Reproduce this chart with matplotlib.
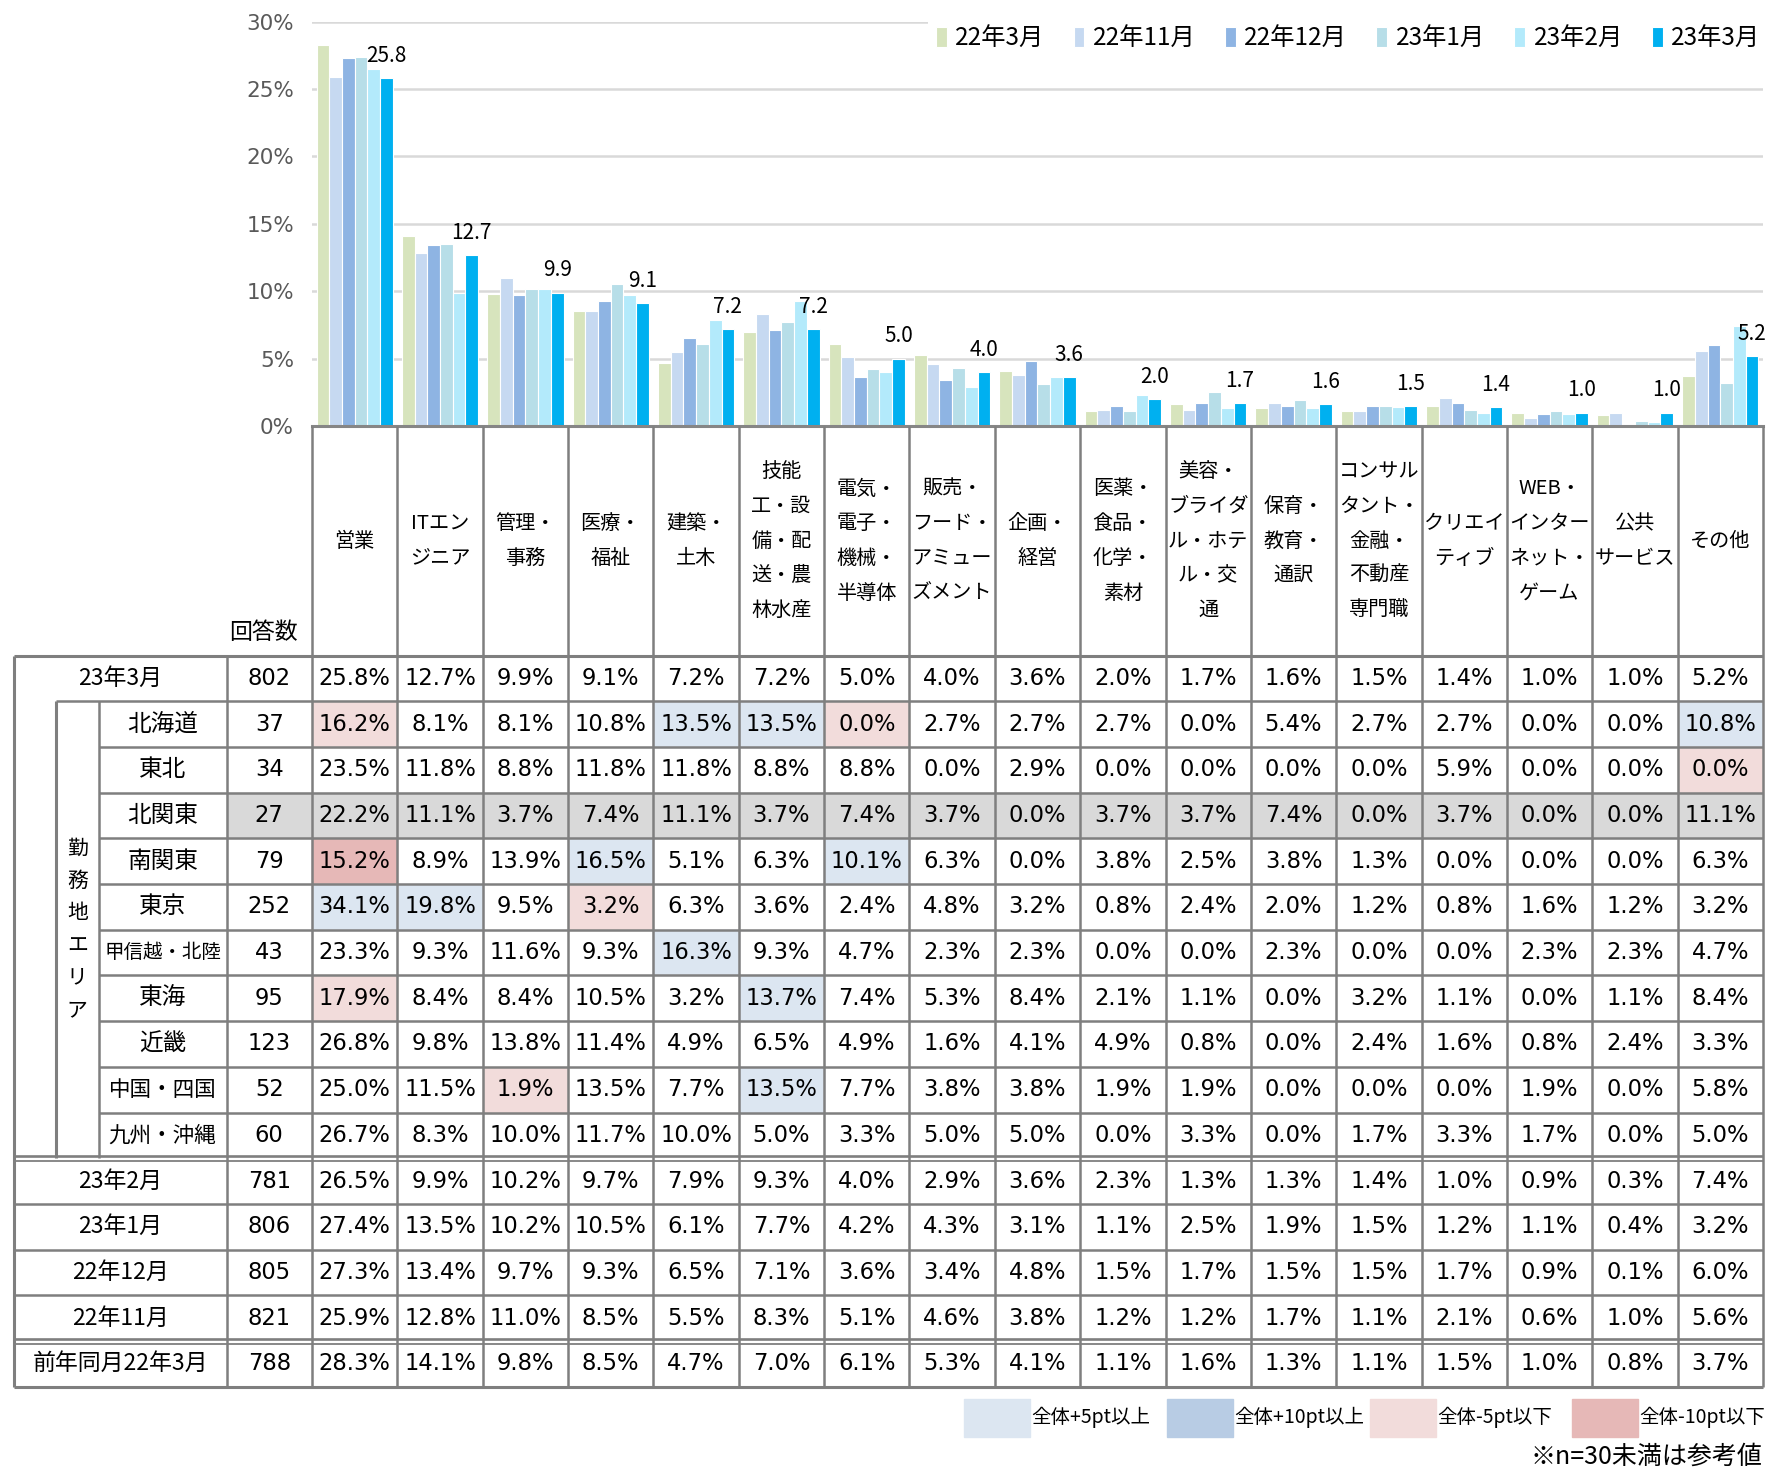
import matplotlib.pyplot as plt
from matplotlib.patches import Rectangle

jp = 'Noto Sans CJK JP'
num_font = 'DejaVu Sans'
plt.rcParams['font.family'] = [jp, 'DejaVu Sans']

# 職種 (column order of the chart and the table)
jobs = ['営業', 'ITエンジニア', '管理・事務', '医療・福祉', '建築・土木',
        '技能工・設備・配送・農林水産', '電気・電子・機械・半導体',
        '販売・フード・アミューズメント', '企画・経営', '医薬・食品・化学・素材',
        '美容・ブライダル・ホテル・交通', '保育・教育・通訳',
        'コンサルタント・金融・不動産専門職', 'クリエイティブ',
        'WEB・インターネット・ゲーム', '公共サービス', 'その他']
header_lines = [['営業'], ['ITエン', 'ジニア'], ['管理・', '事務'], ['医療・', '福祉'],
                ['建築・', '土木'], ['技能', '工・設', '備・配', '送・農', '林水産'],
                ['電気・', '電子・', '機械・', '半導体'], ['販売・', 'フード・', 'アミュー', 'ズメント'],
                ['企画・', '経営'], ['医薬・', '食品・', '化学・', '素材'],
                ['美容・', 'ブライダ', 'ル・ホテ', 'ル・交', '通'], ['保育・', '教育・', '通訳'],
                ['コンサル', 'タント・', '金融・', '不動産', '専門職'], ['クリエイ', 'ティブ'],
                ['WEB・', 'インター', 'ネット・', 'ゲーム'], ['公共', 'サービス'], ['その他']]

# 全体 (latest month)
total_label = '23年3月'
total_n = 802
total = [25.8, 12.7, 9.9, 9.1, 7.2, 7.2, 5.0, 4.0, 3.6, 2.0, 1.7, 1.6, 1.5, 1.4, 1.0, 1.0, 5.2]

# 勤務地エリア別
areas = ['北海道', '東北', '北関東', '南関東', '東京', '甲信越・北陸', '東海', '近畿',
         '中国・四国', '九州・沖縄']
area_n = [37, 34, 27, 79, 252, 43, 95, 123, 52, 60]
area_vals = [
    [16.2, 8.1, 8.1, 10.8, 13.5, 13.5, 0.0, 2.7, 2.7, 2.7, 0.0, 5.4, 2.7, 2.7, 0.0, 0.0, 10.8],
    [23.5, 11.8, 8.8, 11.8, 11.8, 8.8, 8.8, 0.0, 2.9, 0.0, 0.0, 0.0, 0.0, 5.9, 0.0, 0.0, 0.0],
    [22.2, 11.1, 3.7, 7.4, 11.1, 3.7, 7.4, 3.7, 0.0, 3.7, 3.7, 7.4, 0.0, 3.7, 0.0, 0.0, 11.1],
    [15.2, 8.9, 13.9, 16.5, 5.1, 6.3, 10.1, 6.3, 0.0, 3.8, 2.5, 3.8, 1.3, 0.0, 0.0, 0.0, 6.3],
    [34.1, 19.8, 9.5, 3.2, 6.3, 3.6, 2.4, 4.8, 3.2, 0.8, 2.4, 2.0, 1.2, 0.8, 1.6, 1.2, 3.2],
    [23.3, 9.3, 11.6, 9.3, 16.3, 9.3, 4.7, 2.3, 2.3, 0.0, 0.0, 2.3, 0.0, 0.0, 2.3, 2.3, 4.7],
    [17.9, 8.4, 8.4, 10.5, 3.2, 13.7, 7.4, 5.3, 8.4, 2.1, 1.1, 0.0, 3.2, 1.1, 0.0, 1.1, 8.4],
    [26.8, 9.8, 13.8, 11.4, 4.9, 6.5, 4.9, 1.6, 4.1, 4.9, 0.8, 0.0, 2.4, 1.6, 0.8, 2.4, 3.3],
    [25.0, 11.5, 1.9, 13.5, 7.7, 13.5, 7.7, 3.8, 3.8, 1.9, 1.9, 0.0, 0.0, 0.0, 1.9, 0.0, 5.8],
    [26.7, 8.3, 10.0, 11.7, 10.0, 5.0, 3.3, 5.0, 5.0, 0.0, 3.3, 0.0, 1.7, 3.3, 1.7, 0.0, 5.0],
]

# 過去の調査
past_labels = ['23年2月', '23年1月', '22年12月', '22年11月', '前年同月22年3月']
past_n = [781, 806, 805, 821, 788]
past_vals = [
    [26.5, 9.9, 10.2, 9.7, 7.9, 9.3, 4.0, 2.9, 3.6, 2.3, 1.3, 1.3, 1.4, 1.0, 0.9, 0.3, 7.4],
    [27.4, 13.5, 10.2, 10.5, 6.1, 7.7, 4.2, 4.3, 3.1, 1.1, 2.5, 1.9, 1.5, 1.2, 1.1, 0.4, 3.2],
    [27.3, 13.4, 9.7, 9.3, 6.5, 7.1, 3.6, 3.4, 4.8, 1.5, 1.7, 1.5, 1.5, 1.7, 0.9, 0.1, 6.0],
    [25.9, 12.8, 11.0, 8.5, 5.5, 8.3, 5.1, 4.6, 3.8, 1.2, 1.2, 1.7, 1.1, 2.1, 0.6, 1.0, 5.6],
    [28.3, 14.1, 9.8, 8.5, 4.7, 7.0, 6.1, 5.3, 4.1, 1.1, 1.6, 1.3, 1.1, 1.5, 1.0, 0.8, 3.7],
]

months = ['22年3月', '22年11月', '22年12月', '23年1月', '23年2月', '23年3月']
series = [past_vals[4], past_vals[3], past_vals[2], past_vals[1], past_vals[0], total]
month_colors = ['#D7E4BD', '#C6D9F1', '#8EB4E3', '#B7DEE8', '#B3EAFB', '#00B0F0']

hl_labels = ['全体+5pt以上', '全体+10pt以上', '全体-5pt以下', '全体-10pt以下']
hl_colors = ['#DCE6F1', '#B8CCE4', '#F2DCDB', '#E6B8B7']
small_n_color = '#D9D9D9'
line_c = '#7F7F7F'

W, H = 1785, 1469
x0, cw = 312.0, 85.35
ncol = len(jobs)
x1 = x0 + ncol * cw
y_zero, y_top = 426.0, 21.6
head_bot = 655.7
rh = 45.68

fig = plt.figure(figsize=(W / 100, H / 100), dpi=100)

# ---- bar chart ----
ax = fig.add_axes([x0 / W, 1 - y_zero / H, (x1 - x0) / W, (y_zero - y_top) / H])
bw = 0.149
for k, (vals, c, m) in enumerate(zip(series, month_colors, months)):
    xs = [i + 0.5 + (k - 2.5) * bw for i in range(ncol)]
    bars = ax.bar(xs, vals, width=bw, color=c, edgecolor='white', linewidth=0.8, label=m)
ax.bar_label(bars, fmt='%.1f', padding=8, fontsize=15, family=jp)
ax.set_xlim(0, ncol)
ax.set_ylim(0, 30)
ax.set_xticks([])
ax.set_yticks(range(0, 31, 5))
ax.set_yticklabels([f'{v}%' for v in range(0, 31, 5)], family=num_font)
ax.tick_params(axis='y', length=0, pad=13, labelsize=15.5, labelcolor='#595959')
ax.yaxis.grid(True, color='#D9D9D9', linewidth=1.8)
ax.set_axisbelow(True)
for s in ['top', 'right', 'left']:
    ax.spines[s].set_visible(False)
ax.spines['bottom'].set_color('#868686')
ax.spines['bottom'].set_linewidth(2.2)
ax.patch.set_alpha(0)
ax.legend(ncol=6, loc='upper right', bbox_to_anchor=(1780 / W, 1 - 6 / H),
          bbox_transform=fig.transFigure, prop={'family': jp, 'size': 17.5},
          frameon=True, facecolor='white', edgecolor='none', framealpha=1,
          fancybox=False, borderpad=0.3, handlelength=0.45, handleheight=0.9,
          handletextpad=0.35, columnspacing=1.2)

# ---- table ----
tab = fig.add_axes([0, 0, 1, 1])
tab.set_xlim(0, W)
tab.set_ylim(H, 0)
tab.axis('off')


def cell_fill(v, base):
    d = round(v - base, 1)
    if d >= 10:
        return hl_colors[1]
    if d >= 5:
        return hl_colors[0]
    if d <= -10:
        return hl_colors[3]
    if d <= -5:
        return hl_colors[2]
    return None


def col_x(j):
    return x0 + (j + 0.5) * cw


def row_top(i):
    return head_bot + i * rh


def row_c(i):
    return head_bot + (i + 0.5) * rh


def hline(y, xa, xb, lw=1.8):
    tab.plot([xa, xb], [y, y], color=line_c, lw=lw, solid_capstyle='butt', zorder=3)


def vline(x, ya, yb, lw=1.8):
    tab.plot([x, x], [ya, yb], color=line_c, lw=lw, solid_capstyle='butt', zorder=3)


def num(x, y, s):
    tab.text(x, y, s, ha='center', va='center', fontsize=16.3, family=num_font)


tl, xc_n, xa_in, xb_in = 13.7, 226.5, 55.8, 98.7
xn = (xc_n + x0) / 2

# header
for j, lines in enumerate(header_lines):
    n = len(lines)
    for k, t in enumerate(lines):
        tab.text(col_x(j), 541 + (k - (n - 1) / 2) * 34.7, t, ha='center', va='center',
                 fontsize=14.5)
tab.text(263, 632, '回答数', ha='center', va='center', fontsize=16.5)

# rows: total, areas, past months
tab.text((tl + xc_n) / 2, row_c(0), total_label, ha='center', va='center', fontsize=16.5)
num(xn, row_c(0), str(total_n))
for j, v in enumerate(total):
    num(col_x(j), row_c(0), f'{v:.1f}%')

for a, (name, n, vals) in enumerate(zip(areas, area_n, area_vals)):
    i = a + 1
    if n < 30:
        tab.add_patch(Rectangle((xc_n, row_top(i)), x1 - xc_n, rh, color=small_n_color, zorder=1))
    else:
        for j, v in enumerate(vals):
            fc = cell_fill(v, total[j])
            if fc:
                tab.add_patch(Rectangle((x0 + j * cw, row_top(i)), cw, rh, color=fc, zorder=1))
    fs = {5: 15.5, 6: 14}.get(len(name), 17)
    tab.text((xb_in + xc_n) / 2, row_c(i), name, ha='center', va='center', fontsize=fs)
    num(xn, row_c(i), str(n))
    for j, v in enumerate(vals):
        num(col_x(j), row_c(i), f'{v:.1f}%')

for p, (lab, n, vals) in enumerate(zip(past_labels, past_n, past_vals)):
    i = p + 1 + len(areas)
    tab.text((tl + xc_n) / 2, row_c(i), lab, ha='center', va='center', fontsize=16.5)
    num(xn, row_c(i), str(n))
    for j, v in enumerate(vals):
        num(col_x(j), row_c(i), f'{v:.1f}%')

for k, ch in enumerate('勤務地エリア'):
    tab.text((xa_in + xb_in) / 2, 849 + k * 32.2, ch, ha='center', va='center', fontsize=15)

# grid lines
nrows = 1 + len(areas) + len(past_labels)
bottom = row_top(nrows)
area_top, area_bot = row_top(1), row_top(1 + len(areas))
for j in range(ncol + 1):
    vline(x0 + j * cw, y_zero, bottom)
vline(xc_n, head_bot, bottom)
vline(tl, head_bot, bottom, lw=2.2)
vline(xa_in, area_top, area_bot, lw=2.2)
vline(xb_in, area_top, area_bot)
hline(head_bot, tl, x1, lw=2.2)
hline(area_top, xa_in, x1)
for i in range(2, 1 + len(areas)):
    hline(row_top(i), xb_in, x1)
for i in range(2 + len(areas), nrows - 1):
    hline(row_top(i), tl, x1)
for y in (area_bot, row_top(nrows - 1)):
    hline(y - 2.4, tl, x1, lw=1.9)
    hline(y + 2.8, tl, x1, lw=1.3)
hline(bottom, tl, x1, lw=2.2)

# colour key
key_x = [964, 1167, 1370, 1572]
for kx, lab, c in zip(key_x, hl_labels, hl_colors):
    tab.add_patch(Rectangle((kx, 1399), 66, 37.7, color=c))
    tab.text(kx + 67, 1417, lab, ha='left', va='center', fontsize=14)
tab.text(1762, 1457, '※n=30未満は参考値', ha='right', va='center', fontsize=18)

fig.savefig('out.png', dpi=100)
